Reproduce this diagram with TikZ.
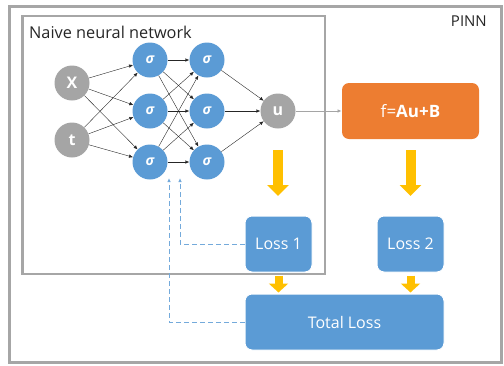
\documentclass[tikz,border=0pt]{standalone}
\usepackage{fontspec}
\setmainfont{Open Sans}
\usetikzlibrary{arrows.meta}
\definecolor{nblue}{HTML}{5B9BD5}
\definecolor{ngray}{HTML}{A5A5A5}
\definecolor{norange}{HTML}{ED7D31}
\definecolor{nyellow}{HTML}{FFC000}
\definecolor{frame}{HTML}{A6A6A6}
\begin{document}
\begin{tikzpicture}[x=1pt,y=-1pt,
  neuron/.style={circle, fill=nblue, minimum size=35pt, inner sep=0pt, text=white, font=\bfseries\itshape\fontsize{14}{16}\selectfont},
  io/.style={circle, fill=ngray, minimum size=35pt, inner sep=0pt, text=white, font=\bfseries\fontsize{16}{18}\selectfont},
  lossbox/.style={draw=white, line width=1pt, rounded corners=7pt, fill=nblue, text=white, inner sep=0pt, font=\fontsize{16}{18}\selectfont},
  conn/.style={-{Latex[length=4pt,width=3.5pt]}, line width=0.4pt, draw=black!85},
  bigarrow/.style={draw=nyellow, line width=10pt, -{Triangle[width=21pt,length=11pt]}},
  smallarrow/.style={draw=nyellow, line width=8pt, -{Triangle[width=19pt,length=9pt]}},
  feedback/.style={draw=nblue!85, line width=1pt, dash pattern=on 5pt off 3pt, -{Latex[length=4pt,width=3.5pt]}}
]
\useasboundingbox (0,0) rectangle (504,365);
% frames
\draw[frame, line width=3pt] (9.5,6) rectangle (501,362);
\draw[frame, line width=2.5pt] (22.5,16) rectangle (325,274);
\node[anchor=west, font=\fontsize{16.3}{18}\selectfont, text=black!85, inner sep=0pt] (title) at (29,32) {Naive neural network};
\node[anchor=east, font=\fontsize{15}{17}\selectfont, text=black!85, inner sep=0pt] (pinn) at (487,21) {PINN};
% nodes
\node[io] (x) at (72,83) {X};
\node[io] (t) at (72,140) {t};
\node[neuron] (a1) at (150,60) {σ};
\node[neuron] (a2) at (150,111) {σ};
\node[neuron] (a3) at (150,162) {σ};
\node[neuron] (b1) at (207,60) {σ};
\node[neuron] (b2) at (207,111) {σ};
\node[neuron] (b3) at (207,162) {σ};
\node[io] (u) at (278,111) {u};
\node[lossbox, draw=none, fill=norange, minimum width=137pt, minimum height=56pt, font=\fontsize{17}{19}\selectfont] (f) at (410.5,111) {f=\textbf{Au+B}};
\node[lossbox, minimum width=67pt, minimum height=56pt] (l1) at (278.5,244) {Loss 1};
\node[lossbox, minimum width=67pt, minimum height=56pt] (l2) at (410.5,244) {Loss 2};
\node[lossbox, minimum width=199pt, minimum height=56pt] (tl) at (344.5,322) {Total Loss};
% connections
\foreach \s in {x,t}{\foreach \d in {a1,a2,a3}{\draw[conn] (\s) -- (\d);}}
\foreach \s in {a1,a2,a3}{\foreach \d in {b1,b2,b3}{\draw[conn] (\s) -- (\d);}}
\foreach \s in {b1,b2,b3}{\draw[conn] (\s) -- (u);}
\draw[-{Latex[length=4pt,width=3.5pt]}, line width=0.5pt, draw=ngray] (u) -- (f);
% yellow arrows
\coordinate (ya1) at (278,150); \coordinate (yb1) at (278,196);
\coordinate (ya2) at (410.5,150); \coordinate (yb2) at (410.5,196);
\draw[bigarrow] (ya1) -- (yb1);
\draw[bigarrow] (ya2) -- (yb2);
\draw[smallarrow] (l1.south) ++(0,3) coordinate (s1) -- ++(0,17) coordinate (e1);
\draw[smallarrow] (l2.south) ++(0,3) coordinate (s2) -- ++(0,17) coordinate (e2);
% feedback
\coordinate (fb1) at (180,178);
\coordinate (fb2) at (169,178);
\draw[feedback] (l1.west) -| (fb1);
\draw[feedback] (tl.west) -| (fb2);
\end{tikzpicture}
\end{document}
